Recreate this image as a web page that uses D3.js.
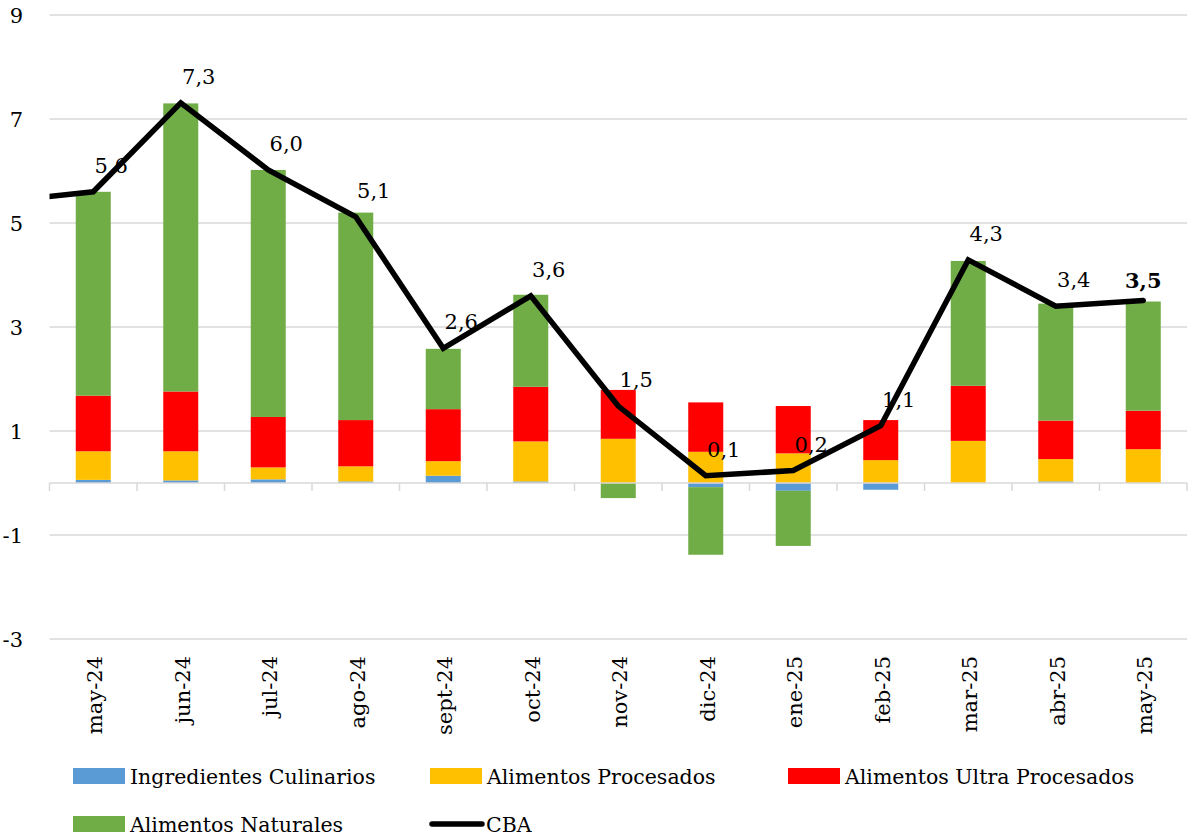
<!DOCTYPE html>
<html>
<head>
<meta charset="utf-8">
<script src="https://cdn.jsdelivr.net/npm/d3@7"></script>
<style>
  html, body { margin: 0; padding: 0; background: #fff; }
  svg { display: block; }
</style>
</head>
<body>
<svg id="chart" width="1188" height="838" font-family="'DejaVu Serif', 'Liberation Serif', serif"></svg>
<script>
// ---- Data ----
const categories = ["may-24","jun-24","jul-24","ago-24","sept-24","oct-24","nov-24","dic-24","ene-25","feb-25","mar-25","abr-25","may-25"];
const ingredientesCulinarios = [0.06, 0.05, 0.07, 0.03, 0.14, 0.03, 0.00, -0.08, -0.15, -0.13, 0.00, 0.03, 0.00];
const alimentosProcesados   = [0.55, 0.56, 0.23, 0.29, 0.28, 0.77, 0.85, 0.60, 0.57, 0.44, 0.81, 0.43, 0.65];
const alimentosUltra        = [1.07, 1.15, 0.97, 0.89, 1.00, 1.05, 0.94, 0.95, 0.91, 0.77, 1.06, 0.74, 0.74];
const alimentosNaturales    = [3.92, 5.54, 4.75, 3.99, 1.16, 1.77, -0.29, -1.30, -1.06, 0.00, 2.40, 2.25, 2.10];
const cba = [5.60, 7.31, 6.02, 5.12, 2.59, 3.60, 1.48, 0.14, 0.24, 1.10, 4.29, 3.40, 3.51];
const cbaPrevious = 5.42; // abr-24, outside the plotted range (line enters from the left edge)
const yTicks = [-3, -1, 1, 3, 5, 7, 9];

const seriesNames = ["Ingredientes Culinarios", "Alimentos Procesados", "Alimentos Ultra Procesados", "Alimentos Naturales"];
const seriesValues = [ingredientesCulinarios, alimentosProcesados, alimentosUltra, alimentosNaturales];
const seriesColors = ["#5B9BD5", "#FFC000", "#FF0000", "#70AD47"];

// ---- Layout ----
const svg = d3.select("#chart");
const plot = { left: 49.5, right: 1187, top: 15, bottom: 639 };
const FS = 21;
const LFS = 20.5;

const x = d3.scaleBand().domain(categories).range([plot.left, plot.right]).paddingInner(0.6).paddingOuter(0.3);
const step = x.step();
const cx = c => x(c) + x.bandwidth() / 2;
const y = d3.scaleLinear().domain([-3, 9]).range([plot.bottom, plot.top]);

// gridlines
svg.append("g").selectAll("line").data(yTicks).join("line")
  .attr("x1", plot.left).attr("x2", plot.right)
  .attr("y1", d => y(d)).attr("y2", d => y(d))
  .attr("stroke", "#d9d9d9").attr("stroke-width", 1.5);

// y tick labels
svg.append("g").selectAll("text").data(yTicks).join("text")
  .attr("x", 23).attr("y", d => y(d) + 8)
  .attr("text-anchor", "end")
  .attr("font-size", FS)
  .text(d => String(d));

// stacked bars (diverging)
const table = categories.map((c, i) => {
  const row = { cat: c };
  seriesNames.forEach((s, k) => row[s] = seriesValues[k][i]);
  return row;
});
const stack = d3.stack().keys(seriesNames).offset(d3.stackOffsetDiverging).order(d3.stackOrderNone);
const stacked = stack(table);

svg.append("g").selectAll("g").data(stacked).join("g")
  .attr("fill", (d, k) => seriesColors[k])
  .selectAll("rect").data(d => d).join("rect")
  .attr("x", d => x(d.data.cat))
  .attr("width", x.bandwidth())
  .attr("y", d => y(Math.max(d[0], d[1])))
  .attr("height", d => Math.abs(y(d[0]) - y(d[1])));

// zero axis and category tick marks
svg.append("line")
  .attr("x1", plot.left).attr("x2", plot.right)
  .attr("y1", y(0)).attr("y2", y(0))
  .attr("stroke", "#d9d9d9").attr("stroke-width", 1.5);
const boundaries = d3.range(categories.length + 1).map(i => plot.left + i * step);
svg.append("g").selectAll("line").data(boundaries).join("line")
  .attr("x1", d => d).attr("x2", d => d)
  .attr("y1", y(0)).attr("y2", y(0) + 8)
  .attr("stroke", "#d9d9d9").attr("stroke-width", 1.5);

// x labels rotated
svg.append("g").selectAll("text").data(categories).join("text")
  .attr("transform", d => `translate(${cx(d)},656) rotate(-90)`)
  .attr("text-anchor", "end")
  .attr("dy", 9)
  .attr("font-size", FS)
  .text(d => d);

// CBA line
svg.append("defs").append("clipPath").attr("id", "plotclip")
  .append("rect").attr("x", plot.left).attr("y", 0).attr("width", plot.right - plot.left).attr("height", 838);
const linePts = [[cx(categories[0]) - step, cbaPrevious]].concat(categories.map((c, i) => [cx(c), cba[i]]));
const line = d3.line().x(d => d[0]).y(d => y(d[1]));
svg.append("path")
  .attr("d", line(linePts))
  .attr("clip-path", "url(#plotclip)")
  .attr("fill", "none").attr("stroke", "#000").attr("stroke-width", 5.5)
  .attr("stroke-linejoin", "miter").attr("stroke-linecap", "round");

// labels
const fmt = d3.formatLocale({ decimal: ",", thousands: ".", grouping: [3], currency: ["", ""] }).format(".1f");
svg.append("g").selectAll("text").data(categories).join("text")
  .attr("x", (c, i) => cx(c) + (i === categories.length - 1 ? 0 : 18))
  .attr("y", (c, i) => y(cba[i]) - (i === categories.length - 1 ? 12 : 19))
  .attr("text-anchor", "middle")
  .attr("font-size", FS)
  .attr("font-weight", (c, i) => i === categories.length - 1 ? "bold" : "normal")
  .text((c, i) => fmt(cba[i]));

// legend
const legendItems = [
  { name: seriesNames[0], color: seriesColors[0], type: "rect", x: 73, y: 776 },
  { name: seriesNames[1], color: seriesColors[1], type: "rect", x: 430, y: 776 },
  { name: seriesNames[2], color: seriesColors[2], type: "rect", x: 788, y: 776 },
  { name: seriesNames[3], color: seriesColors[3], type: "rect", x: 73, y: 824 },
  { name: "CBA", color: "#000", type: "line", x: 430, y: 824 }
];
const lg = svg.append("g").selectAll("g").data(legendItems).join("g")
  .attr("transform", d => `translate(${d.x},${d.y})`);
lg.filter(d => d.type === "rect").append("rect")
  .attr("x", 0).attr("y", -8).attr("width", 52).attr("height", 16)
  .attr("fill", d => d.color);
lg.filter(d => d.type === "line").append("line")
  .attr("x1", 2).attr("x2", 52).attr("y1", 0).attr("y2", 0)
  .attr("stroke", "#000").attr("stroke-width", 5.5).attr("stroke-linecap", "round");
lg.append("text")
  .attr("x", d => d.type === "line" ? 56 : 57)
  .attr("y", 8)
  .attr("font-size", LFS)
  .text(d => d.name);
</script>
</body>
</html>
